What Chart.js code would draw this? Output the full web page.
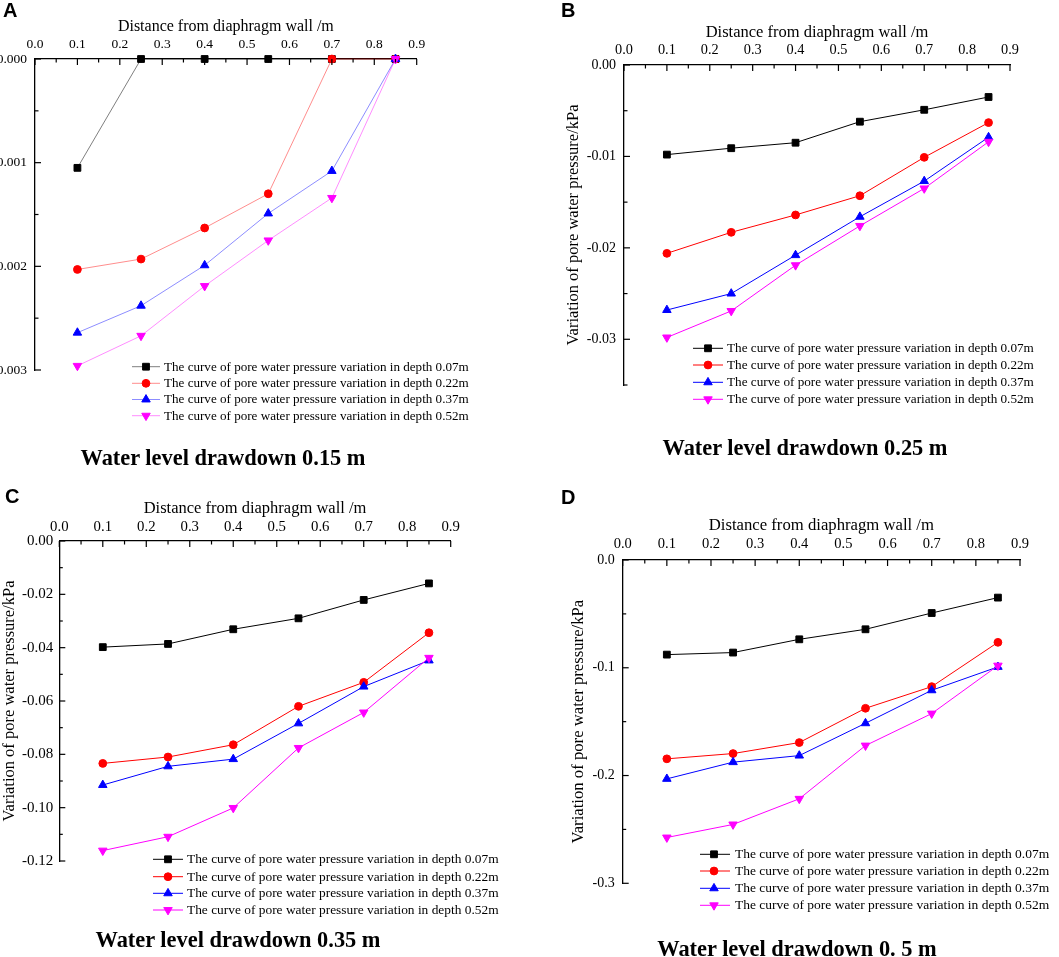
<!DOCTYPE html>
<html><head><meta charset="utf-8">
<script src="https://cdn.jsdelivr.net/npm/chart.js@4.4.1/dist/chart.umd.min.js"></script>
<style>
html,body{margin:0;padding:0;background:#fff;}
body{width:1059px;height:957px;overflow:hidden;position:relative;}
.wrap{position:absolute;}
.cap{position:absolute;font:bold 22.4px 'Liberation Serif','Times New Roman',serif;white-space:nowrap;transform:translate(-50%,-50%);line-height:1;color:#000;}
.let{position:absolute;font:bold 20px 'Liberation Sans',Arial,sans-serif;line-height:1;color:#000;}
</style></head><body>
<div class="wrap" id="wA" style="left:-45px;top:0px;width:560px;height:470px;"><canvas id="cA" width="560" height="470"></canvas></div>
<div class="wrap" id="wB" style="left:530px;top:0px;width:529px;height:470px;"><canvas id="cB" width="529" height="470"></canvas></div>
<div class="wrap" id="wC" style="left:0px;top:470px;width:530px;height:487px;"><canvas id="cC" width="530" height="487"></canvas></div>
<div class="wrap" id="wD" style="left:530px;top:490px;width:529px;height:467px;"><canvas id="cD" width="529" height="467"></canvas></div>
<div class="let" style="left:3px;top:0px;">A</div>
<div class="let" style="left:561px;top:0px;">B</div>
<div class="let" style="left:5px;top:486px;">C</div>
<div class="let" style="left:561px;top:487px;">D</div>
<div class="cap" style="left:223px;top:458px;">Water level drawdown 0.15 m</div>
<div class="cap" style="left:805px;top:448px;">Water level drawdown 0.25 m</div>
<div class="cap" style="left:238px;top:940px;">Water level drawdown 0.35 m</div>
<div class="cap" style="left:797px;top:949px;">Water level drawdown 0. 5 m</div>
<script>
// ---------- DATA ----------
const distance = [0.1, 0.25, 0.4, 0.55, 0.7, 0.85];
const seriesLabels = [
  'The curve of pore water pressure variation in depth 0.07m',
  'The curve of pore water pressure variation in depth 0.22m',
  'The curve of pore water pressure variation in depth 0.37m',
  'The curve of pore water pressure variation in depth 0.52m'
];
const xTicks = [0, 0.1, 0.2, 0.3, 0.4, 0.5, 0.6, 0.7, 0.8, 0.9];
const xMinorTicks = [0.05, 0.15, 0.25, 0.35, 0.45, 0.55, 0.65, 0.75, 0.85];

// Panel A: water level drawdown 0.15 m
const aDepth007 = [-0.00105, 0, 0, 0, 0, 0];
const aDepth022 = [-0.00203, -0.00193, -0.00163, -0.00130, 0, 0];
const aDepth037 = [-0.00264, -0.00238, -0.00199, -0.00149, -0.00108, 0];
const aDepth052 = [-0.00296, -0.00267, -0.00219, -0.00175, -0.00134, 0];
const aYTicks = [0, -0.001, -0.002, -0.003];
const aYMinor = [-0.0005, -0.0015, -0.0025];

// Panel B: water level drawdown 0.25 m
const bDepth007 = [-0.0098, -0.0091, -0.0085, -0.0062, -0.0049, -0.0035];
const bDepth022 = [-0.0206, -0.0183, -0.0164, -0.0143, -0.0101, -0.0063];
const bDepth037 = [-0.0268, -0.0250, -0.0208, -0.0166, -0.0127, -0.0079];
const bDepth052 = [-0.0298, -0.0269, -0.0219, -0.0176, -0.0135, -0.0084];
const bYTicks = [0, -0.01, -0.02, -0.03];
const bYMinor = [-0.005, -0.015, -0.025, -0.035];

// Panel C: water level drawdown 0.35 m
const cDepth007 = [-0.0398, -0.0386, -0.0331, -0.0290, -0.0221, -0.0159];
const cDepth022 = [-0.0834, -0.0810, -0.0764, -0.0620, -0.0530, -0.0344];
const cDepth037 = [-0.0915, -0.0845, -0.0818, -0.0684, -0.0546, -0.0448];
const cDepth052 = [-0.1161, -0.1109, -0.1001, -0.0776, -0.0643, -0.0438];
const cYTicks = [0, -0.02, -0.04, -0.06, -0.08, -0.10, -0.12];
const cYMinor = [-0.01, -0.03, -0.05, -0.07, -0.09, -0.11];

// Panel D: water level drawdown 0.5 m
const dDepth007 = [-0.0878, -0.0859, -0.0736, -0.0643, -0.0492, -0.0349];
const dDepth022 = [-0.1845, -0.1796, -0.1694, -0.1376, -0.1175, -0.0764];
const dDepth037 = [-0.2031, -0.1876, -0.1815, -0.1515, -0.1209, -0.0992];
const dDepth052 = [-0.2575, -0.2454, -0.2216, -0.1722, -0.1425, -0.0980];
const dYTicks = [0, -0.1, -0.2, -0.3];
const dYMinor = [-0.05, -0.15, -0.25];

// ---------- STYLE ----------
const SERIF = "'Liberation Serif','Times New Roman',serif";
Chart.defaults.font.family = SERIF;
Chart.defaults.color = '#000';

const markerColors = ['#000000', '#ff0000', '#0000ff', '#ff00ff'];
const strongLines = ['#000000', '#ff0000', '#0000ff', '#ff00ff'];
const lightLines = ['rgba(0,0,0,0.5)', 'rgba(255,0,0,0.45)', 'rgba(0,0,255,0.45)', 'rgba(255,0,255,0.45)'];
const markerStyles = ['rect', 'circle', 'triangle', 'triangle'];
const markerRot = [0, 0, 0, 180];
const markerRad = [4.8, 3.9, 4.9, 4.9];

function drawMarker(ctx, style, x, y, r, rotDeg, color) {
  ctx.save();
  ctx.fillStyle = color; ctx.strokeStyle = color; ctx.lineWidth = 1;
  ctx.beginPath();
  if (style === 'rect') {
    const s = r * Math.SQRT1_2;
    ctx.rect(x - s, y - s, 2 * s, 2 * s);
  } else if (style === 'circle') {
    ctx.arc(x, y, r, 0, Math.PI * 2);
  } else {
    let rad = rotDeg * Math.PI / 180;
    ctx.moveTo(x + Math.sin(rad) * r, y - Math.cos(rad) * r);
    rad += 2 * Math.PI / 3;
    ctx.lineTo(x + Math.sin(rad) * r, y - Math.cos(rad) * r);
    rad += 2 * Math.PI / 3;
    ctx.lineTo(x + Math.sin(rad) * r, y - Math.cos(rad) * r);
    ctx.closePath();
  }
  ctx.fill(); ctx.stroke();
  ctx.restore();
}

function makeChart(canvasId, series, p) {
  const W = p.W, H = p.H;
  const xFont = p.tickFont, titleFont = p.titleFont;
  const tickLH = xFont * 1.2, titleLH = titleFont * 1.2;
  const xH = p.xTitleOffset + titleLH / 2;
  const yW = p.plot.l - p.yTitleX + titleLH / 2;
  const lineColors = p.light ? lightLines : strongLines;
  const datasets = series.map((vals, i) => ({
    label: seriesLabels[i],
    data: distance.map((d, k) => ({x: d, y: vals[k]})),
    borderColor: lineColors[i],
    backgroundColor: markerColors[i],
    pointBackgroundColor: markerColors[i],
    pointBorderColor: markerColors[i],
    pointStyle: markerStyles[i],
    pointRotation: markerRot[i],
    pointRadius: markerRad[i],
    pointBorderWidth: 1,
    borderWidth: 1,
    tension: 0,
    clip: false,
    order: 3 - i
  }));

  const tickPlugin = {
    id: 'inTicks' + canvasId,
    afterDraw(chart) {
      const ctx = chart.ctx, xs = chart.scales.x, ys = chart.scales.y;
      const top = chart.chartArea.top, left = chart.chartArea.left;
      ctx.save();
      ctx.strokeStyle = '#000'; ctx.lineWidth = 1.2;
      const seg = (x1, y1, x2, y2) => { ctx.beginPath(); ctx.moveTo(x1, y1); ctx.lineTo(x2, y2); ctx.stroke(); };
      xTicks.forEach(v => { const px = xs.getPixelForValue(v); seg(px, top, px, top + 6); });
      xMinorTicks.forEach(v => { const px = xs.getPixelForValue(v); seg(px, top, px, top + 3.5); });
      p.yTicks.forEach(v => { const py = ys.getPixelForValue(v); seg(left, py, left + 6, py); });
      p.yMinor.forEach(v => { const py = ys.getPixelForValue(v); seg(left, py, left + 3.5, py); });
      ctx.restore();
    }
  };

  const legendPlugin = {
    id: 'legendBox' + canvasId,
    afterDraw(chart) {
      const ctx = chart.ctx, L = p.legend;
      ctx.save();
      chart.data.datasets.forEach((ds, i) => {
        const y = L.ys[i];
        ctx.strokeStyle = lineColors[i]; ctx.lineWidth = 1;
        ctx.beginPath(); ctx.moveTo(L.x0, y); ctx.lineTo(L.x1, y); ctx.stroke();
        drawMarker(ctx, markerStyles[i], L.mx, y, markerRad[i], markerRot[i], markerColors[i]);
        ctx.fillStyle = '#000';
        ctx.font = L.font + 'px ' + SERIF;
        ctx.textAlign = 'left'; ctx.textBaseline = 'middle';
        ctx.fillText(ds.label, L.tx, y + 0.5);
      });
      ctx.restore();
    }
  };

  return new Chart(document.getElementById(canvasId), {
    type: 'line',
    data: {datasets},
    plugins: [tickPlugin, legendPlugin],
    options: {
      responsive: false,
      animation: false,
      events: [],
      layout: {padding: {left: p.plot.l - yW, top: p.plot.t - xH, right: W - p.plot.r, bottom: H - p.plot.b}},
      plugins: {legend: {display: false}, tooltip: {enabled: false}},
      scales: {
        x: {
          type: 'linear', position: 'top', min: 0, max: 0.9,
          afterFit: s => { s.height = xH; },
          afterBuildTicks: s => { s.ticks = xTicks.map(v => ({value: v})); },
          grid: {display: false, drawTicks: false},
          border: {display: true, color: '#000', width: 1.3},
          ticks: {autoSkip: false, maxRotation: 0, padding: p.xTickCenter - tickLH / 2,
                  font: {size: xFont}, color: '#000', callback: v => v.toFixed(1)},
          title: {display: true, text: 'Distance from diaphragm wall /m', color: '#000',
                  font: {size: titleFont}, padding: 0}
        },
        y: {
          type: 'linear', position: 'left', min: p.yMin, max: 0,
          afterFit: s => { s.width = yW; },
          afterBuildTicks: s => { s.ticks = p.yTicks.map(v => ({value: v})); },
          grid: {display: false, drawTicks: false},
          border: {display: true, color: '#000', width: 1.3},
          ticks: {autoSkip: false, padding: p.yGap, font: {size: p.yTickFont}, color: '#000',
                  callback: v => (Math.abs(v) < 1e-12 ? 0 : v).toFixed(p.dec)},
          title: {display: true, text: 'Variation of pore water pressure/kPa', color: '#000',
                  font: {size: titleFont}, padding: 0}
        }
      }
    }
  });
}

makeChart('cA', [aDepth007, aDepth022, aDepth037, aDepth052], {
  W: 560, H: 470, plot: {l: 80, t: 59, r: 461.7, b: 370},
  yMin: -0.003, yTicks: aYTicks, yMinor: aYMinor, dec: 3, light: true,
  tickFont: 13.5, yTickFont: 13.5, titleFont: 16, xTitleOffset: 32.3, xTickCenter: 14.7,
  yTitleX: 8, yGap: 8,
  legend: {x0: 177, x1: 205, mx: 191, tx: 209, ys: [366.7, 383.3, 399.5, 415.7], font: 13.1}
});
makeChart('cB', [bDepth007, bDepth022, bDepth037, bDepth052], {
  W: 529, H: 470, plot: {l: 94, t: 65, r: 480, b: 385},
  yMin: -0.035, yTicks: bYTicks, yMinor: bYMinor, dec: 2, light: false,
  tickFont: 14.3, yTickFont: 14, titleFont: 16.5, xTitleOffset: 32.7, xTickCenter: 14.3,
  yTitleX: 44, yGap: 8,
  legend: {x0: 163, x1: 193, mx: 178, tx: 197, ys: [348.3, 365, 382.3, 399.3], font: 13.2}
});
makeChart('cC', [cDepth007, cDepth022, cDepth037, cDepth052], {
  W: 530, H: 487, plot: {l: 59.3, t: 71, r: 450.7, b: 391},
  yMin: -0.12, yTicks: cYTicks, yMinor: cYMinor, dec: 2, light: false,
  tickFont: 14.8, yTickFont: 15, titleFont: 16.5, xTitleOffset: 32.7, xTickCenter: 14.3,
  yTitleX: 10, yGap: 6,
  legend: {x0: 153, x1: 183, mx: 168, tx: 187, ys: [389.3, 406.7, 423.3, 440], font: 13.4}
});
makeChart('cD', [dDepth007, dDepth022, dDepth037, dDepth052], {
  W: 529, H: 467, plot: {l: 92.7, t: 70, r: 490, b: 393.3},
  yMin: -0.3, yTicks: dYTicks, yMinor: dYMinor, dec: 1, light: false,
  tickFont: 14.5, yTickFont: 14, titleFont: 16.7, xTitleOffset: 34, xTickCenter: 15.7,
  yTitleX: 49, yGap: 8,
  legend: {x0: 170, x1: 200, mx: 184, tx: 205, ys: [364.3, 381, 398.3, 415.3], font: 13.5}
});
</script>
</body></html>
